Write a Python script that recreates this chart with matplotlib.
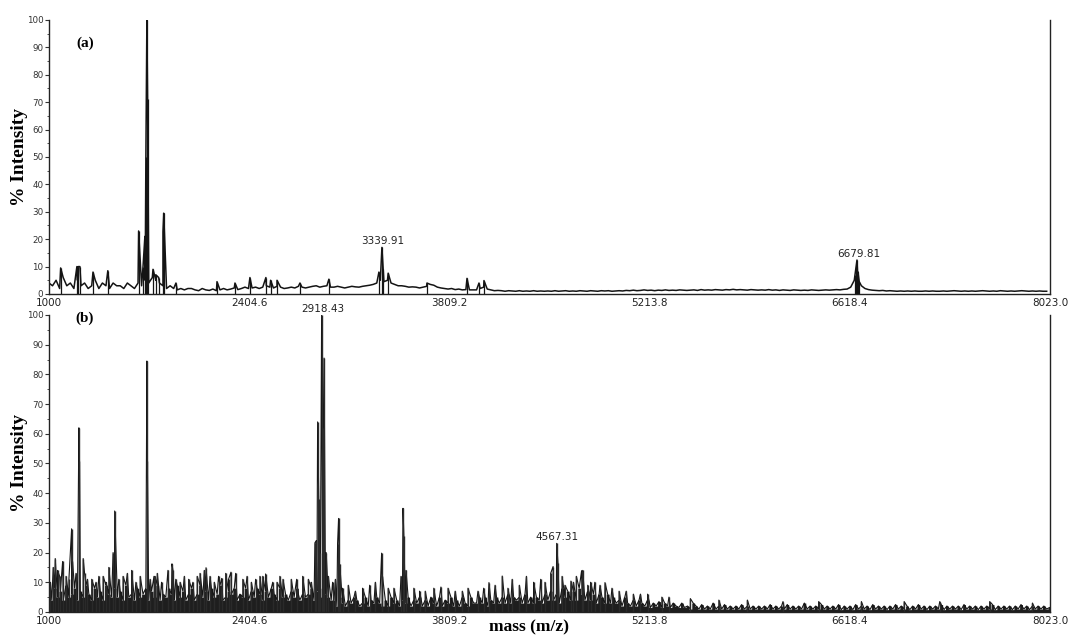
import numpy as np
import matplotlib
matplotlib.use("Agg")
import matplotlib.pyplot as plt
from matplotlib.ticker import MultipleLocator

# ---------------- data ----------------
x_ticks = [1000, 2404.6, 3809.2, 5213.8, 6618.4, 8023.0]
x_tick_labels = ["1000", "2404.6", "3809.2", "5213.8", "6618.4", "8023.0"]
y_ticks = [0, 10, 20, 30, 40, 50, 60, 70, 80, 90, 100]

# panel (a): baseline sampled every 25 Da from 1000 to 8000
a_step = 25
a_base = [
    4, 3, 5, 2, 6, 3, 4, 2, 5, 3, 4, 2, 3, 5, 2, 4, 3, 2, 4, 3,                 # 1000-1475
    3, 2, 4, 3, 2, 4, 3, 5, 4, 6, 5, 4, 3, 2, 3, 2, 1.5, 2, 1.5, 2,             # 1500-1975
    2, 1.5, 1.2, 2, 1.5, 1.3, 1.8, 1.2, 1.5, 2, 1.5, 1.8, 2.2, 1.6, 2, 2.5, 2, 2.2, 2.5, 2.0,  # 2000-2475
    2.5, 3, 2.5, 2.2, 2.8, 2.5, 2, 2.2, 2.5, 2.2, 2.8, 2.5, 2.2, 2.5, 2.8, 3, 2.5, 2.8, 3, 2.5,  # 2500-2975
    2.5, 2.8, 2.5, 2.2, 2.5, 2.8, 2.6, 2.5, 2.8, 3, 3.2, 3.5, 4, 5, 4.5, 5, 4, 3.5, 3, 3,       # 3000-3475
    2.8, 2.5, 2.6, 2.5, 2.2, 2.5, 2.8, 3.5, 3.2, 2.5, 2.2, 2, 1.8, 2, 1.6, 1.8, 1.5, 1.6, 1.5, 1.5,  # 3500-3975
    1.5, 2, 2.5, 1.8, 1.5, 1.2, 1.3, 1.2, 1.0, 1.2, 1.1, 1.0, 1.2, 1.0, 1.1, 1.0, 1.2, 1.0, 1.1, 1.0,  # 4000-4475
    1.1, 1.0, 1.2, 1.0, 1.1, 1.2, 1.0, 1.1, 1.0, 1.2, 1.1, 1.0, 1.2, 1.1, 1.0, 1.2, 1.1, 1.2, 1.0, 1.1,  # 4500-4975
    1.2, 1.1, 1.3, 1.2, 1.4, 1.2, 1.3, 1.5, 1.3, 1.4, 1.2, 1.4, 1.3, 1.5, 1.3, 1.4, 1.3, 1.5, 1.4, 1.3,  # 5000-5475
    1.4, 1.5, 1.3, 1.6, 1.4, 1.5, 1.4, 1.6, 1.5, 1.4, 1.6, 1.5, 1.7, 1.5, 1.6, 1.5, 1.4, 1.6, 1.5, 1.4,  # 5500-5975
    1.5, 1.4, 1.6, 1.4, 1.5, 1.3, 1.5, 1.4, 1.3, 1.5, 1.4, 1.3, 1.4, 1.3, 1.5, 1.4, 1.3, 1.4, 1.5, 1.4,  # 6000-6475
    1.5, 1.6, 1.5, 1.7, 1.8, 2.5, 5, 6, 3, 2, 1.6, 1.4, 1.3, 1.2, 1.3, 1.1, 1.2, 1.1, 1.0, 1.1,         # 6500-6975
    1.0, 1.1, 1.0, 1.1, 1.0, 1.0, 1.1, 1.0, 1.1, 1.0, 1.0, 1.1, 1.0, 1.1, 1.2, 1.1, 1.0, 1.1, 1.0, 1.1,  # 7000-7475
    1.0, 1.1, 1.2, 1.1, 1.0, 1.1, 1.0, 1.2, 1.1, 1.0, 1.1, 1.0, 1.1, 1.2, 1.1, 1.0, 1.1, 1.0, 1.1, 1.0,  # 7500-7975
    1.0,                                                                                           # 8000
]
a_peak_mass = [1082, 1196, 1205, 1217, 1309, 1413, 1629, 1660, 1673, 1680, 1687, 1692,
               1730, 1750, 1770, 1800, 1805, 1891, 2179, 2305, 2410, 2522, 2555, 2600,
               2761, 2964, 3315, 3336, 3345, 3380, 3652, 3933, 4017, 4052,
               6655, 6662, 6669, 6676, 6685]
a_peak_int = [9.5, 10, 10, 10, 8, 8.5, 23, 10, 21, 50, 100, 71,
              9, 7, 6, 23, 29.5, 4, 4.5, 4, 6, 6, 5, 5,
              4, 5.4, 8, 17, 9, 7.6, 4, 5.7, 4, 4.9,
              7, 10, 12.4, 8, 4.5]
a_label_mass = [3339.91, 6679.81]
a_label_int = [17, 12.4]

# panel (b): noisy baseline sampled every 20 Da from 1000 to 8020
b_step = 20
b_base = [
    6, 4, 8, 5, 7, 4, 9, 5, 6, 8, 4, 7, 5, 9, 6, 4, 8, 5, 7, 4, 9, 6, 5, 8, 5,      # 1000-1480
    7, 4, 9, 5, 6, 4, 8, 5, 6, 8, 4, 7, 5, 9, 4, 6, 5, 8, 6, 4, 9, 5, 7, 4, 6,      # 1500-1980
    8, 4, 6, 9, 5, 7, 4, 8, 5, 6, 9, 4, 5, 7, 6, 8, 4, 6, 5, 8, 4, 7, 5, 8, 6,      # 2000-2480
    4, 7, 5, 8, 6, 4, 8, 5, 6, 4, 7, 5, 8, 4, 6, 5, 6, 8, 4, 7, 5, 8, 6, 5, 4,      # 2500-2980
    4, 2, 5, 3, 2, 4, 3, 5, 4, 2, 3, 5, 2, 4, 3, 5, 3, 2, 4, 2, 5, 3, 4, 2, 4,      # 3000-3480
    3, 5, 2, 4, 3, 5, 2, 4, 2, 5, 3, 2, 5, 2, 4, 3, 5, 2, 4, 2, 5, 3, 2, 5, 3,      # 3500-3980
    3, 5, 3, 5, 2, 4, 3, 5, 3, 5, 3, 6, 3, 5, 4, 5, 3, 6, 3, 5, 3, 5, 4, 3, 6,      # 4000-4480
    4, 7, 4, 6, 3, 8, 5, 7, 4, 7, 4, 8, 6, 4, 7, 4, 6, 3, 6, 5, 3, 6, 3, 5, 3,      # 4500-4980
    4, 2, 5, 3, 2, 4, 2, 4, 3, 2, 4, 1.5, 3, 2, 3.5, 1.5, 3, 2, 1.5, 3, 2, 1.5, 3, 1.5, 2,  # 5000-5480
    1, 3, 2, 1, 2.5, 1, 2, 1, 3, 1, 2, 1, 2.5, 1, 2, 1, 2, 1, 2.5, 1, 2, 1, 2, 1, 2,  # 5500-5980
    1, 2, 1, 2.5, 1, 2, 1, 2, 1, 2.5, 1, 2, 1, 2, 1, 3, 1, 2, 1, 2, 1, 2.5, 1, 2, 1,  # 6000-6480
    2, 1, 2.5, 0.8, 2, 1, 2, 0.8, 2.5, 1, 2, 1, 2, 0.8, 2.5, 1, 2, 1, 2, 0.8, 2, 1, 2.5, 1, 2,  # 6500-6980
    1, 2, 0.8, 2, 1, 2.5, 1, 2, 0.8, 2, 1, 2, 1, 2.5, 0.8, 2, 1, 2, 1, 2, 0.8, 2.5, 1, 2, 1,  # 7000-7480
    2, 0.8, 2, 1, 2, 1, 2.5, 0.8, 2, 1, 2, 1, 2, 0.8, 2, 1, 2.5, 1, 2, 0.8, 2, 1, 2, 1, 2,   # 7500-7980
    1, 1.5,                                                                            # 8000-8020
]
b_peak_mass = [1010, 1030, 1044, 1060, 1075, 1096, 1120, 1140, 1159, 1165, 1190, 1210,
               1214, 1240, 1250, 1270, 1300, 1330, 1350, 1380, 1400, 1420, 1450, 1461,
               1490, 1520, 1550, 1580, 1610, 1640, 1687, 1690, 1710, 1737, 1744, 1760,
               1790, 1835, 1863, 1870, 1890, 1920, 1950, 1980, 2010, 2040, 2060, 2090,
               2102, 2130, 2160, 2190, 2212, 2240, 2260, 2277, 2310, 2360, 2390, 2420,
               2450, 2480, 2500, 2520, 2570, 2600, 2620, 2642, 2700, 2738, 2780, 2820,
               2840, 2866, 2875, 2885, 2893, 2905, 2913, 2925, 2930, 2945, 2960, 2990,
               3010, 3025, 3032, 3040, 3060, 3100, 3150, 3200, 3250, 3290, 3334, 3340,
               3380, 3420, 3470, 3484, 3490, 3505, 3560, 3600, 3640, 3700, 3750, 3800,
               3850, 3900, 3940, 4010, 4050, 4087, 4130, 4180, 4220, 4250, 4300, 4350,
               4400, 4450, 4480, 4520, 4537, 4562, 4571, 4600, 4620, 4662, 4680, 4700,
               4737, 4745, 4780, 4800, 4830, 4866, 4901, 4950, 5000, 5050, 5100, 5150,
               5200, 5300, 5350, 5500, 5700, 5900, 6150, 6400, 6700, 7000, 7250, 7600, 7900]
b_peak_int = [10, 15, 18, 14, 12, 17, 12, 11, 28, 17, 13, 62,
              51, 18, 13, 11, 11, 10, 12, 12, 10, 15, 20, 34,
              11, 12, 13, 14, 10, 12, 84.5, 51, 11, 12, 12, 13,
              10, 14, 16.2, 14, 11, 10, 12, 11, 10, 12, 13, 14,
              14.9, 12, 10, 12, 11.3, 13, 11, 13.4, 13, 11, 12, 10,
              11, 12, 12, 12.8, 10, 10, 12, 11, 11, 11, 12, 11,
              10, 23.3, 24, 64, 38, 20, 100, 62, 85.5, 20, 12, 10,
              11, 23, 31.5, 16, 8, 9, 7, 8, 9, 10, 19.8, 12,
              8, 8, 12, 34.9, 25.6, 14, 8, 7, 7, 8, 8.4, 8,
              7, 7, 8, 7, 8, 9.9, 9, 12.1, 8, 11, 9, 12,
              10, 11, 10, 13, 15.3, 23.1, 16.5, 12, 9, 10.4, 10, 12,
              13.9, 14, 9, 10, 10, 9, 9.9, 8, 7, 7, 6, 6,
              6, 5, 5, 4.5, 4, 4, 3.5, 3.5, 3.5, 3.5, 3.5, 3.5, 3]
b_label_mass = [2918.43, 4567.31]
b_label_int = [100, 23.1]

# ---------------- drawing ----------------
def grid(step, base):
    return np.arange(len(base)) * step + 1000.0

def merged(step, base, pk_m, pk_i):
    m = grid(step, base)
    allm = np.concatenate([m, np.asarray(pk_m, float)])
    alli = np.concatenate([np.asarray(base, float), np.asarray(pk_i, float)])
    order = np.argsort(allm, kind="stable")
    return allm[order], alli[order]

fig = plt.figure(figsize=(10.76, 6.38), dpi=100)
ax_a = fig.add_axes([0.0455, 0.5392, 0.9303, 0.4295])
ax_b = fig.add_axes([0.0455, 0.0408, 0.9303, 0.4655])

serif = ["Liberation Serif", "DejaVu Serif"]
ink = "#141414"

def style(ax):
    ax.set_xlim(1000, 8023)
    ax.set_ylim(0, 100)
    ax.spines["top"].set_visible(False)
    for s in ["left", "right", "bottom"]:
        ax.spines[s].set_linewidth(1.0)
        ax.spines[s].set_color("#222222")
    ax.set_xticks(x_ticks)
    ax.set_xticklabels(x_tick_labels)
    ax.set_yticks(y_ticks)
    ax.yaxis.set_minor_locator(MultipleLocator(5))
    ax.tick_params(axis="x", length=0, pad=3, labelsize=7.5, colors="#222222")
    ax.tick_params(axis="y", which="major", length=3, pad=1, labelsize=6.3, colors="#333333")
    ax.tick_params(axis="y", which="minor", length=1.5, colors="#333333")
    ax.set_ylabel("% Intensity", fontfamily=serif, fontweight="bold", fontsize=14, labelpad=-1)

# panel (a)
ma, ia = merged(a_step, a_base, a_peak_mass, a_peak_int)
ax_a.plot(ma, ia, color=ink, lw=1.1)
ax_a.vlines(a_peak_mass, 0, a_peak_int, color=ink, lw=0.9)
style(ax_a)
ax_a.text(0.036, 0.915, "(a)", transform=ax_a.transAxes, fontfamily=serif,
          fontweight="bold", fontsize=11, ha="center", va="center")
for m, v in zip(a_label_mass, a_label_int):
    ax_a.annotate(f"{m:.2f}", (m, v), xytext=(0, 1), textcoords="offset points",
                  ha="center", va="bottom", fontsize=7.5, color="#222222")

# panel (b)
gb = grid(b_step, b_base)
ax_b.fill_between(gb, 0, b_base, step="mid", color="#1e1e1e", lw=0)
mb, ib = merged(b_step, b_base, b_peak_mass, b_peak_int)
ax_b.plot(mb, ib, color=ink, lw=0.8)
ax_b.vlines(b_peak_mass, 0, b_peak_int, color="#2a2a2a", lw=1.0)
style(ax_b)
ax_b.text(0.036, 0.99, "(b)", transform=ax_b.transAxes, fontfamily=serif,
          fontweight="bold", fontsize=11, ha="center", va="center")
for m, v in zip(b_label_mass, b_label_int):
    ax_b.annotate(f"{m:.2f}", (m, v), xytext=(0, 1), textcoords="offset points",
                  ha="center", va="bottom", fontsize=7.5, color="#222222",
                  annotation_clip=False)
ax_b.set_xlabel("mass (m/z)", fontfamily=serif, fontweight="bold", fontsize=12.5)
ax_b.xaxis.set_label_coords(0.48, -0.026)

fig.savefig("out.png", dpi=100)
